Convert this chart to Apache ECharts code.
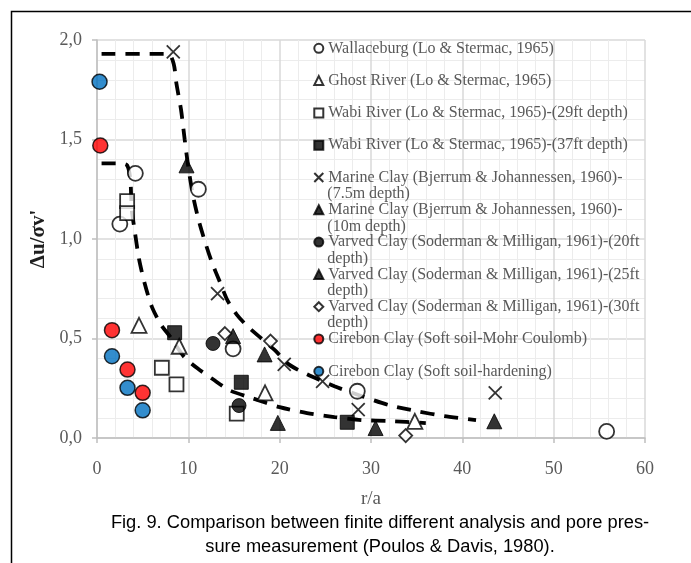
<!DOCTYPE html>
<html>
<head>
<meta charset="utf-8">
<script src="https://cdn.jsdelivr.net/npm/echarts@6/dist/echarts.min.js"></script>
<style>
  html, body { margin: 0; padding: 0; background: #fff; }
  #chart { width: 691px; height: 563px; }
</style>
</head>
<body>
<div id="chart"></div>
<script>
// ---- data ---------------------------------------------------------------
const xTickLabels = ['0', '10', '20', '30', '40', '50', '60'];
const yTickLabels = ['0,0', '0,5', '1,0', '1,5', '2,0'];

// measured points [r/a, Δu/σv']
const wallaceburg = [[2.5, 1.075], [4.2, 1.33], [11.1, 1.25], [14.9, 0.448], [28.5, 0.235], [55.8, 0.033]];
const ghostRiver = [[4.6, 0.566], [9.0, 0.461], [18.4, 0.227], [34.8, 0.084]];
const wabi29 = [[3.3, 1.19], [3.3, 1.13], [7.1, 0.353], [8.7, 0.269], [15.3, 0.122]];
const wabi37 = [[8.5, 0.529], [15.8, 0.28], [27.4, 0.079]];
const marine75 = [[8.35, 1.94], [13.2, 0.725], [20.5, 0.37], [24.7, 0.285], [28.6, 0.143], [43.6, 0.227]];
const marine10 = [[9.8, 1.37], [18.35, 0.42], [30.5, 0.05], [43.5, 0.084]];
const varved20 = [[12.7, 0.475], [15.55, 0.163]];
const varved25 = [[14.9, 0.512], [19.8, 0.076]];
const varved30 = [[14.0, 0.525], [19.0, 0.487], [33.8, 0.012]];
const cirebonMC = [[0.36, 1.47], [1.64, 0.542], [3.34, 0.344], [5.0, 0.227]];
const cirebonHS = [[0.28, 1.79], [1.64, 0.411], [3.34, 0.252], [5.0, 0.139]];

// finite difference analysis curves
const curveLower = [[0.5, 1.38], [2.5, 1.38], [3.3, 1.37], [3.65, 1.3], [3.8, 1.15], [4.1, 1.05], [4.6, 0.9],
  [5.2, 0.78], [6.0, 0.66], [7.0, 0.57], [8.0, 0.51], [9.5, 0.41], [11.0, 0.35], [12.7, 0.295], [14.5, 0.24],
  [17.0, 0.2], [20.0, 0.155], [23.0, 0.125], [26.0, 0.105], [29.0, 0.09], [32.0, 0.085], [36.0, 0.075]];
const curveUpper = [[0.5, 1.93], [7.8, 1.93], [8.4, 1.88], [8.7, 1.78], [9.2, 1.65], [9.6, 1.5], [10.0, 1.36],
  [10.5, 1.22], [11.1, 1.1], [11.8, 0.99], [12.6, 0.88], [13.4, 0.79], [14.3, 0.69], [15.3, 0.62], [16.5, 0.56],
  [18.0, 0.5], [19.5, 0.44], [21.0, 0.37], [23.0, 0.32], [26.0, 0.26], [29.0, 0.21], [32.0, 0.165],
  [35.0, 0.135], [38.0, 0.11], [41.5, 0.09]];

// legend labels: [first line, wrapped second line]
const legendLines = [
  ['Wallaceburg (Lo & Stermac, 1965)', ''],
  ['Ghost River (Lo & Stermac, 1965)', ''],
  ['Wabi River (Lo & Stermac, 1965)-(29ft depth)', ''],
  ['Wabi River (Lo & Stermac, 1965)-(37ft depth)', ''],
  ['Marine Clay (Bjerrum & Johannessen, 1960)-', '(7.5m depth)'],
  ['Marine Clay (Bjerrum & Johannessen, 1960)-', '(10m depth)'],
  ['Varved Clay (Soderman & Milligan, 1961)-(20ft', 'depth)'],
  ['Varved Clay (Soderman & Milligan, 1961)-(25ft', 'depth)'],
  ['Varved Clay (Soderman & Milligan, 1961)-(30ft', 'depth)'],
  ['Cirebon Clay (Soft soil-Mohr Coulomb)', ''],
  ['Cirebon Clay (Soft soil-hardening)', '']
];
const captionLines = [
  'Fig. 9. Comparison between finite different analysis and pore pres-',
  'sure measurement (Poulos & Davis, 1980).'
];

// ---- styling --------------------------------------------------------------
const SERIF = '"Liberation Serif", "Times New Roman", serif';
const SANS = '"Liberation Sans", Arial, sans-serif';
const CROSS = 'path://M0,0L10,10M0,10L10,0';

const open = { color: '#ffffff', borderColor: '#000000', borderWidth: 1.8 };
const solid = { color: '#000000', borderColor: '#000000', borderWidth: 1 };

const markerDefs = [
  { data: wallaceburg, symbol: 'circle', size: 15, style: open },
  { data: ghostRiver, symbol: 'triangle', size: 15, style: open },
  { data: wabi29, symbol: 'rect', size: 14, style: open },
  { data: wabi37, symbol: 'rect', size: 14, style: solid },
  { data: marine75, symbol: CROSS, size: 13, style: { color: 'transparent', borderColor: '#000', borderWidth: 1.8 } },
  { data: marine10, symbol: 'triangle', size: 15, style: solid },
  { data: varved20, symbol: 'circle', size: 14, style: solid },
  { data: varved25, symbol: 'triangle', size: 15, style: solid },
  { data: varved30, symbol: 'diamond', size: 13, style: open },
  { data: cirebonMC, symbol: 'circle', size: 15, style: { color: '#ff0000', borderColor: '#000', borderWidth: 1.5 } },
  { data: cirebonHS, symbol: 'circle', size: 15, style: { color: '#0070c0', borderColor: '#000', borderWidth: 1.5 } }
];

const seriesNames = legendLines.map(l => l[1] ? l[0] + (l[0].endsWith('-') ? '' : ' ') + l[1] : l[0]);
const firstLine = {};
legendLines.forEach((l, i) => { firstLine[seriesNames[i]] = l[0]; });

const dashStyle = { color: '#000', width: 3.8, type: [14, 10], cap: 'butt' };

const series = [
  { type: 'line', name: 'curve-lower', data: curveLower, smooth: 0.25, showSymbol: false, symbol: 'none',
    lineStyle: dashStyle, z: 1, silent: true },
  { type: 'line', name: 'curve-upper', data: curveUpper, smooth: 0.25, showSymbol: false, symbol: 'none',
    lineStyle: dashStyle, z: 1, silent: true }
].concat(markerDefs.map((m, i) => ({
  type: 'scatter',
  name: seriesNames[i],
  data: m.data,
  symbol: m.symbol,
  symbolSize: m.size,
  itemStyle: m.style,
  z: 3
})));

// legend geometry
const LEG_TOP = 39.3, LEG_PITCH = 32.3, LEG_LINE = 18;
const secondLineTexts = [];
legendLines.forEach((l, i) => {
  if (!l[1]) return;
  secondLineTexts.push({
    type: 'text',
    left: 327.3,
    top: LEG_TOP + i * LEG_PITCH + LEG_LINE - 0.5,
    z: 10,
    style: { text: l[1], font: '16px ' + SERIF, fill: '#595959' }
  });
});

const chart = echarts.init(document.getElementById('chart'), null, { renderer: 'canvas' });
chart.setOption({
  backgroundColor: '#ffffff',
  animation: false,
  grid: { left: 97, top: 40, right: 46, bottom: 125, containLabel: false, outerBoundsMode: 'none' },
  xAxis: {
    type: 'value', min: 0, max: 60, interval: 10,
    name: 'r/a', nameLocation: 'middle', nameGap: 52,
    nameTextStyle: { fontFamily: SERIF, fontSize: 19, color: '#595959' },
    axisLine: { show: true, onZero: false, lineStyle: { color: '#bfbfbf', width: 1.5 } },
    axisTick: { show: true, inside: false, length: 5, lineStyle: { color: '#bfbfbf', width: 1.5 } },
    axisLabel: { fontFamily: SERIF, fontSize: 18, color: '#595959', margin: 22,
      formatter: (v) => xTickLabels[Math.round(v / 10)] },
    splitLine: { show: true, lineStyle: { color: '#d9d9d9', width: 1.5 } },
    minorTick: { show: false, splitNumber: 5 },
    minorSplitLine: { show: true, lineStyle: { color: '#ececec', width: 1 } }
  },
  yAxis: {
    type: 'value', min: 0, max: 2, interval: 0.5,
    name: 'Δu/σv\'', nameLocation: 'middle', nameGap: 32, nameRotate: 90,
    nameTextStyle: { fontFamily: SERIF, fontSize: 21, fontWeight: 'bold', color: '#1f1f1f' },
    axisLine: { show: true, onZero: false, lineStyle: { color: '#bfbfbf', width: 1.5 } },
    axisTick: { show: true, inside: false, length: 5, lineStyle: { color: '#bfbfbf', width: 1.5 } },
    axisLabel: { fontFamily: SERIF, fontSize: 18, color: '#595959', margin: 15,
      formatter: (v) => yTickLabels[Math.round(v / 0.5)] },
    splitLine: { show: true, lineStyle: { color: '#d9d9d9', width: 1.5 } },
    minorTick: { show: false, splitNumber: 5 },
    minorSplitLine: { show: true, lineStyle: { color: '#ececec', width: 1 } }
  },
  legend: {
    orient: 'vertical',
    left: 313.3, top: LEG_TOP,
    padding: 0,
    itemWidth: 9, itemHeight: 9,
    itemGap: LEG_PITCH - LEG_LINE,
    selectedMode: false,
    data: seriesNames,
    formatter: (name) => firstLine[name],
    textStyle: { fontFamily: SERIF, fontSize: 16, color: '#595959', lineHeight: LEG_LINE }
  },
  graphic: [
    // figure frame (continues past the right and bottom edges)
    { type: 'rect', left: 9, top: 9, z: 0, silent: true,
      shape: { x: 0, y: 0, width: 900, height: 800 },
      style: { fill: 'none', stroke: '#000', lineWidth: 1.5 } },
    { type: 'text', x: 380, y: 523, z: 10,
      style: { text: captionLines[0], font: '18.3px ' + SANS, fill: '#000', align: 'center', verticalAlign: 'middle' } },
    { type: 'text', x: 380, y: 547, z: 10,
      style: { text: captionLines[1], font: '18.3px ' + SANS, fill: '#000', align: 'center', verticalAlign: 'middle' } }
  ].concat(secondLineTexts),
  series: series
});
</script>
</body>
</html>
